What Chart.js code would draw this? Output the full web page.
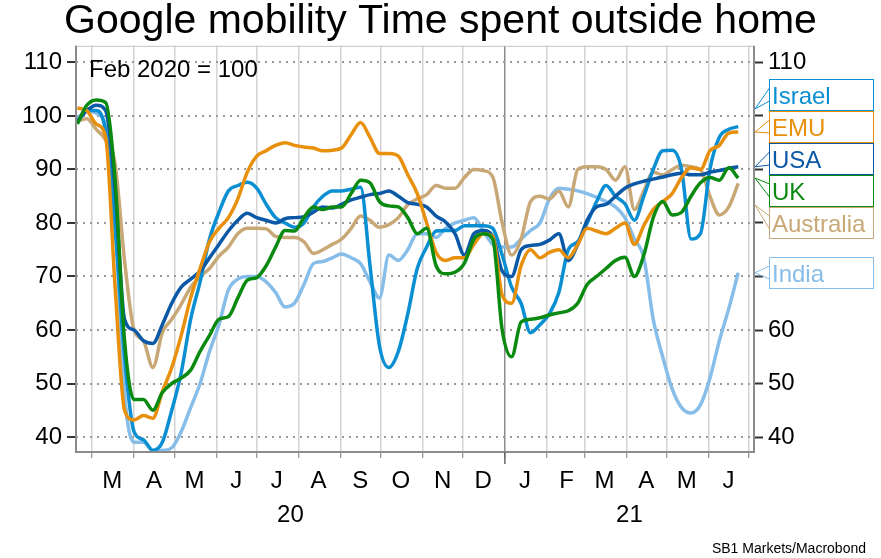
<!DOCTYPE html>
<html>
<head>
<meta charset="utf-8">
<script src="https://cdn.jsdelivr.net/npm/chart.js@4.4.1/dist/chart.umd.min.js"></script>
<style>
  html, body { margin: 0; padding: 0; background: #fff; }
  canvas { display: block; }
</style>
</head>
<body>
<canvas id="myChart" width="881" height="558"></canvas>
<script>
// weekly readings (7-day average), first one on 19 Feb 2020, Feb 2020 = 100
const firstWeek = '2020-02-19';

const israel = [99, 101, 101, 97, 79, 55, 41, 39.5, 37.5, 39, 45, 52, 62, 69, 77, 82, 86, 87, 87.6, 86.5,
  83.5, 81, 80, 79.2, 80, 83, 85, 86, 86, 86.3, 86.7, 72, 57, 53, 56, 63, 71.5, 75.5, 78.5, 78.6,
  78.6, 79.5, 79.5, 79.5, 79, 74, 68, 65, 59.5, 61, 63, 67, 75, 76.5, 80, 84, 87, 85, 83.6, 80.5,
  85, 90, 93.5, 93.6, 90, 77, 78, 90, 96, 97.5, 98];
const emu = [101.5, 101, 98.5, 96, 68, 45, 43.2, 44, 43.5, 48.5, 53, 59, 66, 71.5, 76.5, 79, 81, 84.5, 89.5, 92.5,
  93.5, 94.5, 95, 94.5, 94.2, 94, 93.5, 93.6, 94, 96.5, 98.8, 96, 93, 93, 92.5, 89, 85.5, 80, 74.5, 73,
  73.5, 73.5, 76, 78, 77.5, 66.5, 65, 72, 75, 73.5, 74.5, 75, 73.5, 76, 79, 78.5, 78, 79, 80, 76,
  79.5, 82.5, 84, 85.5, 88.5, 90.3, 90, 93.5, 94.5, 96.8, 97];
const usa = [99, 101, 102, 101, 86, 62, 60, 58, 57.5, 61, 65, 68, 69.5, 71, 73.5, 76, 78.5, 80.5, 81.8, 81,
  80.5, 80, 80.8, 81, 81.2, 82, 83, 82.8, 83.5, 84.3, 84.8, 85.3, 85.5, 86, 85, 83.8, 83.5, 83, 81.3, 80.2,
  78, 74, 78, 78.6, 77.5, 71, 70, 75, 75.8, 76, 76.8, 78, 73, 76, 80.5, 83, 83.5, 85, 86.5, 87.3,
  87.8, 88.2, 88.6, 89, 89.3, 89, 89, 89.5, 89.8, 90.2, 90.5];
const uk = [98.5, 102, 103, 102.5, 88, 58, 47, 47, 45, 48.3, 50, 51, 52.5, 56, 59, 62, 62.5, 66, 69.3, 69.8,
  72, 75.5, 78.6, 78.5, 81, 83, 82.5, 83, 83, 85.5, 88, 87.5, 84, 83.2, 83, 81, 78, 79, 72, 70.5,
  70.8, 72.5, 77, 78, 77, 60, 55, 61.5, 62, 62.3, 62.8, 63.2, 63.6, 65, 68.5, 70, 71.5, 73, 73.6, 70,
  74, 81, 84, 81.5, 82, 85, 87.5, 88.5, 88, 90.3, 88.4];
const australia = [99, 99.5, 97.5, 95.5, 91, 73, 60, 58, 53, 59.5, 62, 64.8, 68, 70, 71.5, 73.8, 75.5, 78, 79, 79,
  78.9, 77.5, 77.3, 77.3, 76.5, 74.3, 75, 76, 77, 79, 81.3, 80.5, 79.2, 79.7, 81, 83.4, 84.5, 85.3, 87, 86.5,
  86.5, 88.5, 90, 89.8, 88.6, 80, 74, 77, 84, 85, 84.5, 86, 83, 90, 90.5, 90.5, 90, 88, 90.5, 82.5,
  86, 89.5, 89, 90, 90.8, 90.5, 90, 85, 81.5, 83, 87.4];
const india = [99.5, 101, 100.5, 98, 80, 48, 39, 39, 37.5, 37.5, 38, 41, 45.5, 50, 56, 61, 67.5, 69.5, 70, 70,
  69, 67, 64.3, 65, 68.5, 72.4, 72.8, 73.5, 74.2, 73.5, 72.4, 69, 66, 74, 73, 75, 78, 78, 77.3, 79,
  80, 80.5, 81, 78.5, 76, 75.5, 75.5, 77, 78.6, 80, 84.5, 86.5, 86.3, 86, 85.5, 84.8, 84, 83, 81, 77,
  73.5, 62, 55, 49, 45.5, 44.5, 46, 51, 58, 64, 70.7];

const seriesNames = ['Israel', 'EMU', 'USA', 'UK', 'Australia', 'India'];
const seriesValues = [israel, emu, usa, uk, australia, india];
const seriesColors = ['#0b8fd3', '#e8900c', '#0b58a6', '#0a8a10', '#c9a877', '#86bde9'];
const drawOrder = [3, 1, 2, 0, 4, 5];   // 0 = drawn on top

const monthStarts = ['2020-03-01', '2020-04-01', '2020-05-01', '2020-06-01', '2020-07-01', '2020-08-01',
  '2020-09-01', '2020-10-01', '2020-11-01', '2020-12-01', '2021-01-01', '2021-02-01', '2021-03-01',
  '2021-04-01', '2021-05-01', '2021-06-01', '2021-07-01'];
const monthLabels = ['M', 'A', 'M', 'J', 'J', 'A', 'S', 'O', 'N', 'D', 'J', 'F', 'M', 'A', 'M', 'J'];
const yearLabels = ['20', '21'];
const yearBreak = '2021-01-01';
const yTicks = [40, 50, 60, 70, 80, 90, 100, 110];

// label boxes on the right, top edge in px
const calloutTops = [79, 111, 143, 175, 207, 257];

const baseDate = Date.UTC(2020, 2, 1);
function dayOf(iso) {
  const [y, m, d] = iso.split('-').map(Number);
  return (Date.UTC(y, m - 1, d) - baseDate) / 86400000;
}
const weekDays = israel.map((v, i) => dayOf(firstWeek) + 7 * i);
const monthDays = monthStarts.map(dayOf);
const breakDay = dayOf(yearBreak);
const xMin = -12, xMax = 490.7;

const FONT = '"Liberation Sans", Arial, sans-serif';

const datasets = seriesNames.map((name, i) => ({
  label: name,
  data: weekDays.map((d, j) => ({ x: d, y: seriesValues[i][j] })),
  borderColor: seriesColors[i],
  borderWidth: 3.5,
  pointRadius: 0,
  fill: false,
  cubicInterpolationMode: 'monotone',
  order: drawOrder[i]
}));

const extras = {
  id: 'extras',
  afterDatasetsDraw(chart) {
    const { ctx, chartArea: a, scales } = chart;
    ctx.save();
    // frame
    ctx.lineWidth = 1;
    ctx.strokeStyle = '#c4c4c4';
    ctx.beginPath(); ctx.moveTo(a.left, a.top + 0.5); ctx.lineTo(a.right, a.top + 0.5); ctx.stroke();
    ctx.lineWidth = 2;
    ctx.strokeStyle = '#8c8c8c';
    ctx.beginPath();
    ctx.moveTo(a.left, a.top); ctx.lineTo(a.left, a.bottom); ctx.lineTo(a.right, a.bottom); ctx.lineTo(a.right, a.top);
    ctx.stroke();
    // longer tick at the year break
    const xb = scales.x.getPixelForValue(breakDay);
    ctx.lineWidth = 1.5;
    ctx.strokeStyle = '#666';
    ctx.beginPath(); ctx.moveTo(xb, a.bottom); ctx.lineTo(xb, a.bottom + 12); ctx.stroke();
    // note inside the plot
    ctx.fillStyle = '#000';
    ctx.font = '24px ' + FONT;
    ctx.textAlign = 'left';
    ctx.textBaseline = 'alphabetic';
    ctx.fillText('Feb 2020 = 100', a.left + 13, 77);
    ctx.restore();
  },
  afterDraw(chart) {
    const { ctx, scales } = chart;
    const y = scales.y;
    const boxLeft = 769, boxW = 104, boxH = 31, tipX = 755;
    ctx.save();
    seriesNames.forEach((name, i) => {
      const top = calloutTops[i];
      const vals = seriesValues[i];
      let tipY = y.getPixelForValue(vals[vals.length - 1]);
      tipY = Math.max(top - 2, Math.min(top + boxH - 1, tipY));
      ctx.fillStyle = '#fff';
      ctx.fillRect(boxLeft, top, boxW, boxH);
      ctx.strokeStyle = seriesColors[i];
      ctx.lineWidth = 1;
      ctx.strokeRect(boxLeft + 0.5, top + 0.5, boxW, boxH);
      ctx.beginPath();
      ctx.moveTo(boxLeft + 0.5, top + 9);
      ctx.lineTo(tipX, tipY);
      ctx.lineTo(boxLeft + 0.5, top + 22);
      ctx.stroke();
      ctx.fillStyle = seriesColors[i];
      ctx.font = '24px ' + FONT;
      ctx.textAlign = 'left';
      ctx.textBaseline = 'alphabetic';
      ctx.fillText(name, boxLeft + 3, top + 24.5);
    });
    ctx.fillStyle = '#000';
    ctx.font = '14px ' + FONT;
    ctx.textAlign = 'right';
    ctx.fillText('SB1 Markets/Macrobond', 866, 553);
    ctx.restore();
  }
};

Chart.defaults.font.family = FONT;
Chart.defaults.color = '#000';

const ctx = document.getElementById('myChart').getContext('2d');
new Chart(ctx, {
  type: 'line',
  data: { datasets: datasets },
  options: {
    responsive: false,
    animation: false,
    layout: { padding: { left: 0, right: 0, top: 0, bottom: 28 } },
    plugins: {
      legend: { display: false },
      tooltip: { enabled: false },
      title: {
        display: true,
        text: 'Google mobility Time spent outside home',
        color: '#000',
        font: { size: 41, weight: 'normal', lineHeight: 1.07 },
        padding: { top: 0, bottom: 2 }
      }
    },
    scales: {
      x: {
        type: 'linear',
        position: 'bottom',
        weight: 0,
        min: xMin,
        max: xMax,
        afterBuildTicks: (scale) => { scale.ticks = monthDays.map(v => ({ value: v })); },
        afterFit: (scale) => { scale.height = 48; },
        grid: {
          color: (c) => (c.tick && c.tick.value === breakDay) ? '#8c8c8c' : '#d4d4d4',
          lineWidth: 1.5,
          tickColor: '#777',
          tickLength: 6,
          tickWidth: 1
        },
        border: { display: false },
        ticks: {
          autoSkip: false,
          maxRotation: 0,
          padding: 9,
          labelOffset: 20,
          font: { size: 24 },
          callback: (v, i) => monthLabels[i] || ''
        }
      },
      xYear: {
        type: 'linear',
        position: 'bottom',
        weight: 1,
        min: xMin,
        max: xMax,
        afterBuildTicks: (scale) => {
          scale.ticks = [{ value: (xMin + breakDay) / 2 }, { value: (breakDay + xMax) / 2 }];
        },
        afterFit: (scale) => { scale.height = 30; },
        grid: { display: false, drawTicks: false },
        border: { display: false },
        ticks: {
          autoSkip: false,
          maxRotation: 0,
          padding: 1,
          font: { size: 24 },
          callback: (v, i) => yearLabels[i]
        }
      },
      y: {
        type: 'linear',
        position: 'left',
        min: 37.2,
        max: 113.1,
        afterBuildTicks: (scale) => { scale.ticks = yTicks.map(v => ({ value: v })); },
        afterFit: (scale) => { scale.width = 76; },
        grid: {
          color: '#9a9a9a',
          lineWidth: 2,
          tickColor: '#333',
          tickLength: 9,
          tickWidth: 2
        },
        border: { display: false, dash: [2, 5] },
        ticks: { padding: 5, font: { size: 24 } }
      },
      y2: {
        type: 'linear',
        position: 'right',
        min: 37.2,
        max: 113.1,
        afterBuildTicks: (scale) => { scale.ticks = yTicks.map(v => ({ value: v })); },
        afterFit: (scale) => { scale.width = 127; },
        grid: {
          drawOnChartArea: false,
          tickColor: '#333',
          tickLength: 9,
          tickWidth: 2
        },
        border: { display: false },
        ticks: { padding: 5, font: { size: 24 } }
      }
    }
  },
  plugins: [extras]
});
</script>
</body>
</html>
